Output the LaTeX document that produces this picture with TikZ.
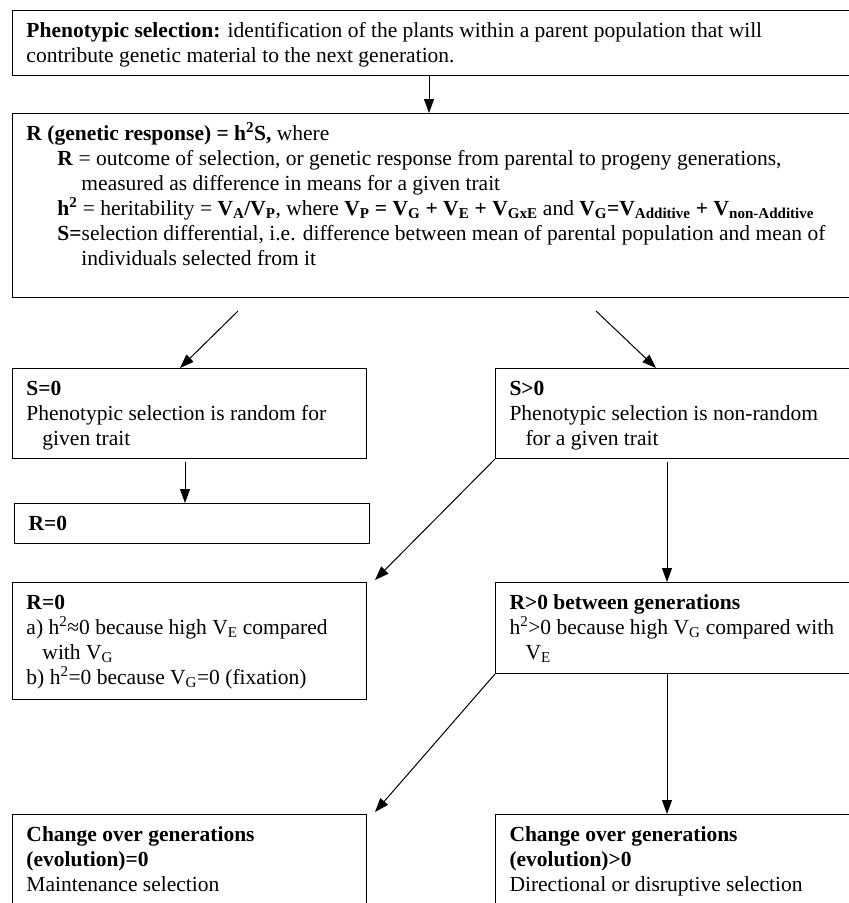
\documentclass[tikz,border=0pt]{standalone}
\usepackage{fontspec}
\setmainfont{Liberation Serif}
\usetikzlibrary{arrows.meta,calc}

\newcommand{\boxtext}[3]{%
  \parbox[c][#2][t]{#1}{\raggedright\hfuzz=300pt\hbadness=10000
    \leftskip=14pt\fontsize{21.5}{25}\selectfont
    \leavevmode\rule{0pt}{26.5pt}#3}}
\newcommand{\hangline}[3]{{\advance\leftskip#1\relax\hangindent=#2\hangafter=1\relax #3\par}}

\tikzset{
  panel/.style={draw, line width=1pt, anchor=north west, inner sep=0pt},
  flow/.style={-{Triangle[length=14pt,width=10pt]}, line width=1pt},
}

\begin{document}
\begin{tikzpicture}[x=1pt,y=-1pt]
\useasboundingbox (0,0) rectangle (849,903);
\clip (0,0) rectangle (849,903);

\node[panel] (top) at (12,10) {\boxtext{880pt}{65pt}{%
  \textbf{Phenotypic selection:} identification of the plants within a parent population that will\newline
  contribute genetic material to the next generation.\par}};

\node[panel] (resp) at (12,113) {\boxtext{880pt}{184pt}{%
  \textbf{R (genetic response) = h\textsuperscript{2}S,} where\par
  \hangline{31pt}{24pt}{\textbf{R} = outcome of selection, or genetic response from parental to progeny generations,\newline
    measured as difference in means for a given trait}
  \hangline{31pt}{24pt}{\textbf{h\textsuperscript{2}} = heritability = \textbf{V\textsubscript{A}/V\textsubscript{P}}, where
    \textbf{V\textsubscript{P} = V\textsubscript{G} + V\textsubscript{E} + V\textsubscript{GxE}} and
    \textbf{V\textsubscript{G}=V\textsubscript{Additive} + V\textsubscript{non-Additive}}}
  \hangline{31pt}{24pt}{\textbf{S=}selection differential, i.e. difference between mean of parental population and mean of\newline
    individuals selected from it}}};

\node[panel] (szero) at (12,368) {\boxtext{354pt}{90pt}{%
  \textbf{S=0}\par
  \hangline{0pt}{16pt}{Phenotypic selection is random for\newline given trait}}};
\node[panel] (spos) at (495,368) {\boxtext{400pt}{90pt}{%
  \textbf{S>0}\par
  \hangline{0pt}{16pt}{Phenotypic selection is non-random\newline for a given trait}}};

\node[panel] (rzero) at (14,503) {\boxtext{355pt}{40pt}{\textbf{R=0}\par}};

\node[panel] (rfix) at (12,582) {\boxtext{354pt}{117pt}{%
  \textbf{R=0}\par
  \hangline{0pt}{16pt}{a) h\textsuperscript{2}≈0 because high V\textsubscript{E} compared\newline with V\textsubscript{G}}
  b) h\textsuperscript{2}=0 because V\textsubscript{G}=0 (fixation)\par}};
\node[panel] (rpos) at (495,582) {\boxtext{400pt}{91pt}{%
  \textbf{R>0 between generations}\par
  \hangline{0pt}{16pt}{h\textsuperscript{2}>0 because high V\textsubscript{G} compared with\newline V\textsubscript{E}}}};

\node[panel] (evzero) at (12,814) {\boxtext{354pt}{120pt}{%
  \textbf{Change over generations\newline (evolution)=0}\par
  Maintenance selection\par}};
\node[panel] (evpos) at (495,814) {\boxtext{400pt}{120pt}{%
  \textbf{Change over generations\newline (evolution)>0}\par
  Directional or disruptive selection\par}};

\draw[flow] ($(top.south west)+(417,0)$) -- ($(resp.north west)+(417,0)$);
\draw[flow] ($(resp.south west)+(226,13)$) -- ($(szero.north west)+(168,0)$);
\draw[flow] ($(resp.south west)+(584,13)$) -- ($(spos.north west)+(161,0)$);
\draw[flow] ($(szero.south west)+(173,3)$) -- ($(rzero.north west)+(171,0)$);
\draw[flow] (spos.south west) -- ($(rfix.north east)+(8,-2)$);
\draw[flow] ($(spos.south west)+(172,3)$) -- ($(rpos.north west)+(172,0)$);
\draw[flow] (rpos.south west) -- ($(evzero.north east)+(8,-2)$);
\draw[flow] ($(rpos.south west)+(172,0)$) -- ($(evpos.north west)+(172,0)$);
\end{tikzpicture}
\end{document}
